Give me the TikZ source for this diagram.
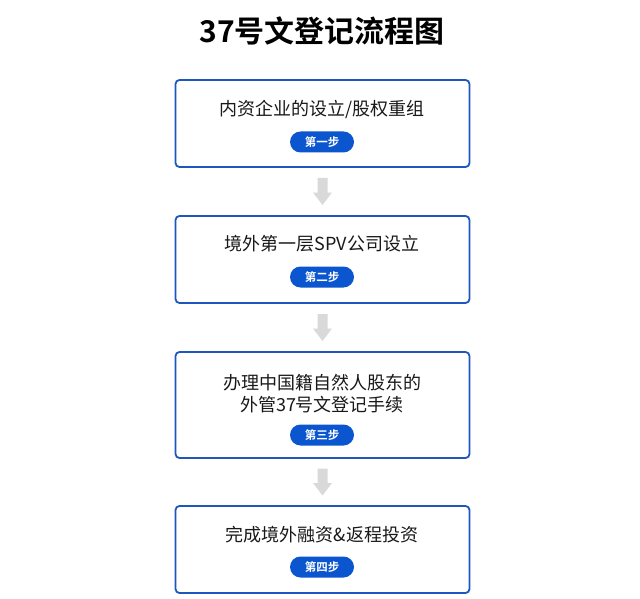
\documentclass[tikz,border=0pt]{standalone}
\usepackage{fontspec}
\setmainfont{Noto Sans CJK SC}
\newfontfamily\cjkb{Noto Sans CJK SC Bold}
\usetikzlibrary{shapes.arrows}
\definecolor{boxblue}{HTML}{1E56C0}
\definecolor{pillblue}{HTML}{0B56CF}
\definecolor{arrgray}{HTML}{D9D9D9}
\tikzset{
  stepbox/.style={draw=boxblue,line width=1.8pt,rounded corners=4pt,fill=white,minimum width=294pt,inner sep=0pt},
  maintext/.style={font=\fontsize{18}{24}\selectfont,align=center,text=black!90},
  pill/.style={fill=pillblue,rounded corners=10.5pt,minimum width=64pt,minimum height=21pt,inner sep=0pt,text=white,font=\cjkb\fontsize{11.5}{12}\selectfont},
  downarr/.style={fill=arrgray,draw=none}
}
\begin{document}
\begin{tikzpicture}[x=1pt,y=-1pt]
\useasboundingbox (0,0) rectangle (640,599);
\fill[white] (0,0) rectangle (640,599);
\node (title) at (322,31) {\cjkb\fontsize{30}{32}\selectfont 37号文登记流程图};

% boxes
\node[stepbox,minimum height=87pt] (b1) at (322.5,123.5) {};
\node[stepbox,minimum height=87pt] (b2) at (322.5,259.5) {};
\node[stepbox,minimum height=106pt] (b3) at (322.5,405) {};
\node[stepbox,minimum height=87pt] (b4) at (322.5,549.5) {};

\node[maintext] (t1) at (322,109) {内资企业的设立/股权重组};
\node[pill] (p1) at (322,142) {第一步};
\node[maintext] (t2) at (322,244) {境外第一层SPV公司设立};
\node[pill] (p2) at (322,277) {第二步};
\node[maintext,font=\fontsize{18}{22}\selectfont] (t3) at (322,394) {办理中国籍自然人股东的\\外管37号文登记手续};
\node[pill] (p3) at (322,435) {第三步};
\node[maintext] (t4) at (322,535) {完成境外融资\&返程投资};
\node[pill] (p4) at (322,567) {第四步};

% arrows
\foreach \a/\b in {b1/b2,b2/b3,b3/b4}{
  \path (\a.south) -- (\b.north) coordinate[pos=0.5] (m\a);
  \fill[downarr] ([xshift=-5pt,yshift=13.5pt]m\a) -- ([xshift=5pt,yshift=13.5pt]m\a) -- ([xshift=5pt,yshift=-1pt]m\a) -- ([xshift=9.5pt,yshift=-1pt]m\a) -- ([yshift=-13.5pt]m\a) -- ([xshift=-9.5pt,yshift=-1pt]m\a) -- ([xshift=-5pt,yshift=-1pt]m\a) -- cycle;
}
\end{tikzpicture}
\end{document}
